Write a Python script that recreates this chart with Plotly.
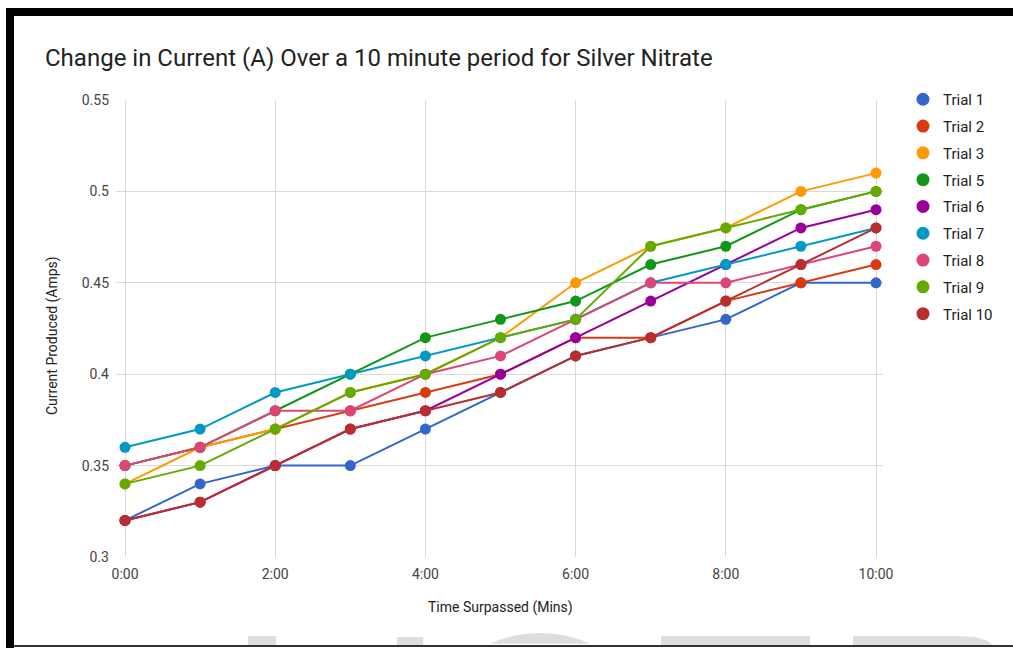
import math
import plotly.graph_objects as go

# Time in minutes since start
minutes = [0, 1, 2, 3, 4, 5, 6, 7, 8, 9, 10]

trial_names = ["Trial 1", "Trial 2", "Trial 3", "Trial 5", "Trial 6",
               "Trial 7", "Trial 8", "Trial 9", "Trial 10"]

trial_1 = [0.32, 0.34, 0.35, 0.35, 0.37, 0.39, 0.41, 0.42, 0.43, 0.45, 0.45]
trial_2 = [0.35, 0.36, 0.37, 0.38, 0.39, 0.40, 0.42, 0.42, 0.44, 0.45, 0.46]
trial_3 = [0.34, 0.36, 0.37, 0.39, 0.40, 0.42, 0.45, 0.47, 0.48, 0.50, 0.51]
trial_5 = [0.35, 0.36, 0.38, 0.40, 0.42, 0.43, 0.44, 0.46, 0.47, 0.49, 0.50]
trial_6 = [0.32, 0.33, 0.35, 0.37, 0.38, 0.40, 0.42, 0.44, 0.46, 0.48, 0.49]
trial_7 = [0.36, 0.37, 0.39, 0.40, 0.41, 0.42, 0.43, 0.45, 0.46, 0.47, 0.48]
trial_8 = [0.35, 0.36, 0.38, 0.38, 0.40, 0.41, 0.43, 0.45, 0.45, 0.46, 0.47]
trial_9 = [0.34, 0.35, 0.37, 0.39, 0.40, 0.42, 0.43, 0.47, 0.48, 0.49, 0.50]
trial_10 = [0.32, 0.33, 0.35, 0.37, 0.38, 0.39, 0.41, 0.42, 0.44, 0.46, 0.48]

trial_values = [trial_1, trial_2, trial_3, trial_5, trial_6,
                trial_7, trial_8, trial_9, trial_10]

colors = ["#3366cc", "#dc3912", "#ff9900", "#109618", "#990099",
          "#0099c6", "#dd4477", "#66aa00", "#b82e2e"]

x_tick_vals = [0, 2, 4, 6, 8, 10]
x_tick_text = ["0:00", "2:00", "4:00", "6:00", "8:00", "10:00"]
y_tick_vals = [0.3, 0.35, 0.4, 0.45, 0.5, 0.55]
y_tick_text = ["0.3", "0.35", "0.4", "0.45", "0.5", "0.55"]

W, H = 1013, 648
L, R, T, B = 116, 130, 100, 91
PW, PH = W - L - R, H - T - B
FONT = "Roboto, Arial, sans-serif"


def px(x):
    return (x - L) / PW


def py(y):
    return (H - B - y) / PH


fig = go.Figure()

for name, vals, col in zip(trial_names, trial_values, colors):
    fig.add_trace(go.Scatter(
        x=minutes, y=vals, mode="lines+markers", name=name,
        line=dict(color=col, width=2),
        marker=dict(color=col, size=11),
        showlegend=False, hoverinfo="x+y+name",
    ))

# Legend entries drawn as plain dots, one group each so the gap applies
for name, col in zip(trial_names, colors):
    fig.add_trace(go.Scatter(
        x=[None], y=[None], mode="markers", name=name, legendgroup=name,
        marker=dict(color=col, size=13), showlegend=True,
    ))

shapes = []
# frame
shapes.append(dict(type="rect", xref="paper", yref="paper",
                   x0=px(6), x1=px(1013), y0=py(16), y1=py(8),
                   fillcolor="black", line=dict(width=0), layer="above"))
shapes.append(dict(type="rect", xref="paper", yref="paper",
                   x0=px(6), x1=px(14), y0=py(648), y1=py(8),
                   fillcolor="black", line=dict(width=0), layer="above"))

# faint large lettering along the bottom edge
wm = "#dedede"
for x0, x1, y0 in [(248, 276, 636), (397, 423, 637), (661, 810, 636)]:
    shapes.append(dict(type="rect", xref="paper", yref="paper",
                       x0=px(x0), x1=px(x1), y0=py(646), y1=py(y0),
                       fillcolor=wm, line=dict(width=0), layer="below"))

cx, cy, rad = 540, 756, 123
pts = []
for i in range(61):
    a = math.pi + math.pi * i / 60
    xx, yy = cx + rad * math.cos(a), cy + rad * math.sin(a)
    if yy <= 646:
        pts.append((xx, yy))
path = "M " + " L ".join(f"{px(a):.5f},{py(b):.5f}" for a, b in pts) + " Z"
shapes.append(dict(type="path", xref="paper", yref="paper", path=path,
                   fillcolor=wm, line=dict(width=0), layer="below"))

dpts = [(853, 646), (853, 636), (958, 636), (975, 637), (986, 640), (994, 646)]
path = "M " + " L ".join(f"{px(a):.5f},{py(b):.5f}" for a, b in dpts) + " Z"
shapes.append(dict(type="path", xref="paper", yref="paper", path=path,
                   fillcolor=wm, line=dict(width=0), layer="below"))

shapes.append(dict(type="rect", xref="paper", yref="paper",
                   x0=px(14), x1=px(1013), y0=py(647), y1=py(645),
                   fillcolor="#333", line=dict(width=0), layer="above"))

annotations = [
    dict(text="Current Produced (Amps)", xref="paper", yref="paper",
         x=px(52), y=py(336), textangle=-90, showarrow=False,
         xanchor="center", yanchor="middle",
         font=dict(family=FONT, size=14, color="#222")),
    dict(text="Time Surpassed (Mins)", xref="paper", yref="paper",
         x=px(500), y=py(607), showarrow=False,
         xanchor="center", yanchor="middle",
         font=dict(family=FONT, size=14, color="#222")),
]

fig.update_layout(
    width=W, height=H,
    margin=dict(l=L, r=R, t=T, b=B, pad=0),
    paper_bgcolor="white", plot_bgcolor="white",
    title=dict(text="Change in Current (A) Over a 10 minute period for Silver Nitrate",
               x=45 / W, xanchor="left", xref="container",
               y=1 - 58 / H, yanchor="middle", yref="container",
               font=dict(family=FONT, size=24, color="#222")),
    xaxis=dict(range=[-0.12, 10.093], tickvals=x_tick_vals, ticktext=x_tick_text,
               showgrid=True, gridcolor="#d9d9d9", gridwidth=1,
               zeroline=False, showline=False, ticks="", ticklabelstandoff=7,
               tickfont=dict(family=FONT, size=14, color="#444")),
    yaxis=dict(range=[0.3, 0.55], tickvals=y_tick_vals, ticktext=y_tick_text,
               showgrid=True, gridcolor="#d9d9d9", gridwidth=1,
               zeroline=False, showline=False, ticks="", ticklabelstandoff=6,
               tickfont=dict(family=FONT, size=14, color="#444")),
    legend=dict(x=px(903), y=py(83), xanchor="left", yanchor="top",
                font=dict(family=FONT, size=15, color="#222"),
                tracegroupgap=4.3, itemwidth=30, bgcolor="rgba(0,0,0,0)"),
    shapes=shapes,
    annotations=annotations,
    hovermode="closest",
)

fig.write_html("out.html")
